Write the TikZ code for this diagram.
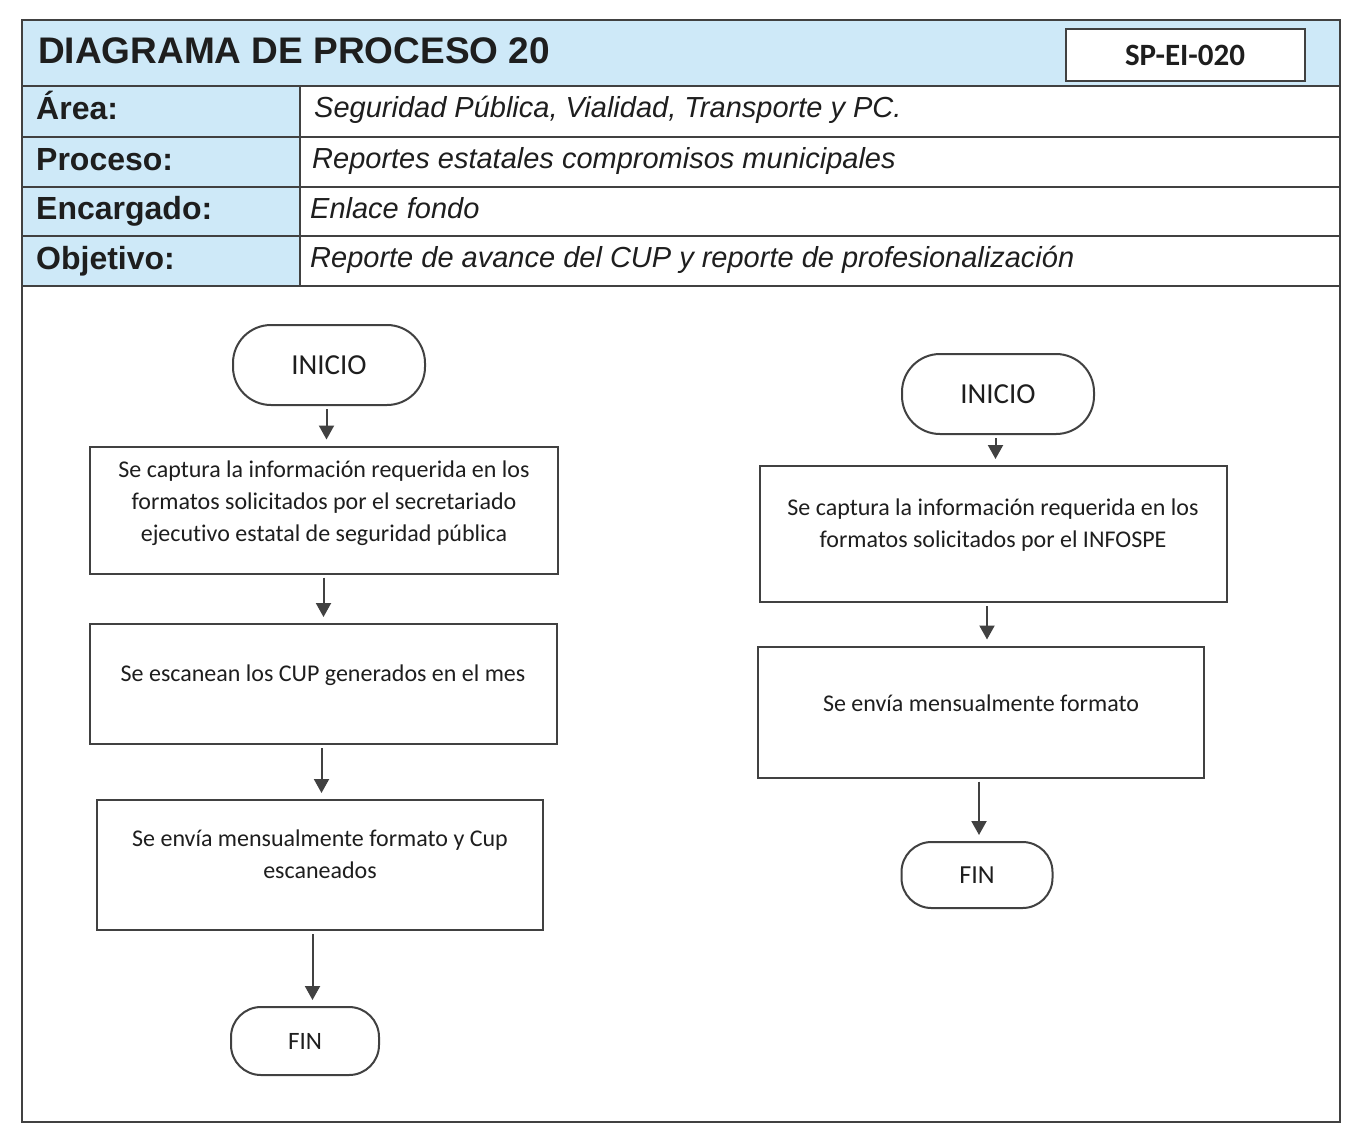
\documentclass[tikz,border=0pt]{standalone}
\usepackage{fontspec}
\setmainfont{Liberation Sans}
\newfontfamily\calib[Ligatures=NoCommon]{Carlito}
\usetikzlibrary{arrows.meta,calc}
\definecolor{hdrblue}{RGB}{206,233,248}
\definecolor{ink}{RGB}{30,30,30}
\definecolor{linec}{RGB}{65,65,65}
\tikzset{
  frame/.style={draw=linec, line width=2pt},
  lbl/.style={anchor=base west, inner sep=0pt, text=ink, font=\bfseries\fontsize{32}{32}\selectfont},
  val/.style={anchor=base west, inner sep=0pt, text=ink, font=\itshape\fontsize{29}{29}\selectfont},
  term/.style={draw=linec, line width=2pt, fill=white, text=ink, inner sep=0pt},
  boxnode/.style={draw=linec, line width=2pt, inner sep=0pt},
  txt/.style={align=center, text=ink, inner sep=0pt, font=\calib\fontsize{24}{32}\selectfont},
  arr/.style={draw=linec, line width=2pt, -{Triangle[width=15pt,length=14pt]}, shorten <=3pt, shorten >=6pt}
}
\begin{document}
\begin{tikzpicture}[x=1pt,y=-1pt]
\useasboundingbox (0,0) rectangle (1348,1144);
\fill[white] (0,0) rectangle (1348,1144);
% header fills
\fill[hdrblue] (22,20) rectangle (1340,86);
\fill[hdrblue] (22,86) rectangle (300,286);
% header lines
\draw[frame] (22,86) -- (1340,86);
\draw[frame] (22,137) -- (1340,137);
\draw[frame] (22,187) -- (1340,187);
\draw[frame] (22,236) -- (1340,236);
\draw[frame] (22,286) -- (1340,286);
\draw[frame] (300,86) -- (300,286);
\draw[frame] (22,20) rectangle (1340,1122);
% title and code
\node[anchor=base west, inner sep=0pt, text=ink, font=\bfseries\fontsize{37}{37}\selectfont] (title) at (38,63) {DIAGRAMA DE PROCESO 20};
\node[draw=linec, line width=2pt, fill=white, minimum width=239pt, minimum height=52pt, inner sep=0pt, text=ink, font=\calib\bfseries\fontsize{31}{31}\selectfont] (code) at (1185,55) {SP-EI-020};
% rows
\node[lbl] (lArea) at (36,119) {Área:};
\node[val] (vArea) at (314,117) {Seguridad Pública, Vialidad, Transporte y PC.};
\node[lbl] (lProc) at (36,170) {Proceso:};
\node[val] (vProc) at (312,168) {Reportes estatales compromisos municipales};
\node[lbl] (lEnc) at (36,219) {Encargado:};
\node[val] (vEnc) at (310,218) {Enlace fondo};
\node[lbl] (lObj) at (36,269) {Objetivo:};
\node[val] (vObj) at (310,267) {Reporte de avance del CUP y reporte de profesionalización};
% left flow
\node[term, rounded corners=38pt, minimum width=192pt, minimum height=80pt, font=\calib\fontsize{29}{29}\selectfont] (iL) at (329,365) {INICIO};
\node[boxnode, minimum width=468pt, minimum height=127pt] (b1L) at (324,510) {};
\node[txt] (t1L) at ([yshift=7pt]b1L.center) {Se captura la información requerida en los\\formatos solicitados por el secretariado\\ejecutivo estatal de seguridad pública};
\node[boxnode, minimum width=467pt, minimum height=120pt] (b2L) at (323,684) {};
\node[txt] (t2L) at ([yshift=9pt]b2L.center) {Se escanean los CUP generados en el mes};
\node[boxnode, minimum width=446pt, minimum height=130pt] (b3L) at (320,865) {};
\node[txt] (t3L) at ([yshift=11pt]b3L.center) {Se envía mensualmente formato y Cup\\escaneados};
\node[term, rounded corners=30pt, minimum width=148pt, minimum height=68pt, font=\calib\fontsize{25}{25}\selectfont] (fL) at (305,1041) {FIN};
% right flow
\node[term, rounded corners=38pt, minimum width=192pt, minimum height=80pt, font=\calib\fontsize{29}{29}\selectfont] (iR) at (998,394) {INICIO};
\node[boxnode, minimum width=467pt, minimum height=136pt] (b1R) at (993,534) {};
\node[txt] (t1R) at ([yshift=9pt]b1R.center) {Se captura la información requerida en los\\formatos solicitados por el INFOSPE};
\node[boxnode, minimum width=446pt, minimum height=131pt] (b2R) at (981,712) {};
\node[txt] (t2R) at ([yshift=9pt]b2R.center) {Se envía mensualmente formato};
\node[term, rounded corners=30pt, minimum width=151pt, minimum height=66pt, font=\calib\fontsize{26}{26}\selectfont] (fR) at (977,875) {FIN};
% arrows
\foreach \a/\b in {iL/b1L, b1L/b2L, b2L/b3L, b3L/fL, iR/b1R, b1R/b2R, b2R/fR}{
  \draw[arr] ($(\a.south)!.5!(\a.south -| \b.north)$) -- ($(\b.north)!.5!(\b.north -| \a.south)$);
}
\end{tikzpicture}
\end{document}
